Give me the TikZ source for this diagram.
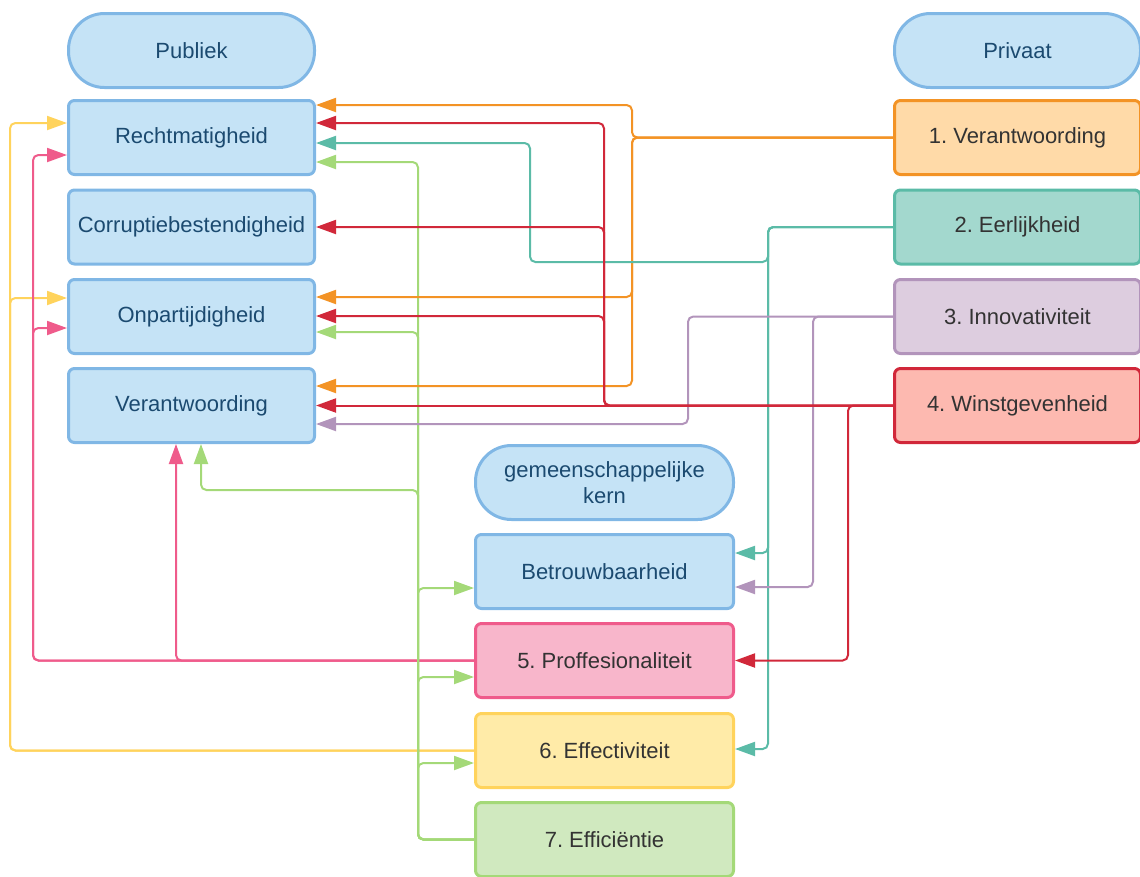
\documentclass[tikz,border=0pt]{standalone}
\usepackage{fontspec}
\setmainfont{Liberation Sans}
\usetikzlibrary{arrows.meta}
\definecolor{bfill}{HTML}{C5E3F6}
\definecolor{bline}{HTML}{80B7E5}
\definecolor{btext}{HTML}{1B4A70}
\definecolor{gtext}{HTML}{333333}
\definecolor{orl}{HTML}{F39325}
\definecolor{orf}{HTML}{FFDAA8}
\definecolor{tel}{HTML}{5BBBA7}
\definecolor{tef}{HTML}{A3D8CE}
\definecolor{pul}{HTML}{B294BB}
\definecolor{puf}{HTML}{DDCDDF}
\definecolor{rel}{HTML}{D1283A}
\definecolor{ref}{HTML}{FDB9B0}
\definecolor{pil}{HTML}{EF5B8B}
\definecolor{pif}{HTML}{F8B6CB}
\definecolor{yel}{HTML}{FFD35C}
\definecolor{yef}{HTML}{FFEBA8}
\definecolor{grl}{HTML}{A4D978}
\definecolor{grf}{HTML}{D0E9BF}
\tikzset{
  box/.style={draw, rounded corners=4.5pt, line width=2.25pt, minimum width=184.5pt,
    minimum height=55.5pt, inner sep=0pt, align=center,
    font=\fontsize{16.5}{19.5}\selectfont},
  bbox/.style={box, fill=bfill, draw=bline, text=btext},
  stad/.style={bbox, rounded corners=27pt},
  midw/.style={minimum width=193.5pt},
  cbox/.style 2 args={box, fill=#2, draw=#1, text=gtext},
  conn/.style={line width=1.5pt, rounded corners=4pt, draw=#1},
  arr/.style={conn=#1, -{Triangle[length=15pt,width=10.5pt]}}
}
\frenchspacing
\begin{document}
\begin{tikzpicture}[x=0.75pt,y=-0.75pt]
\useasboundingbox (0,0) rectangle (1140,876);
\clip (0,0) rectangle (1140,876);
% left column
\node[stad] (Pub) at (191.5,50.5) {Publiek};
\node[bbox] (Rm) at (191.5,137.5) {Rechtmatigheid};
\node[bbox] (Cb) at (191.5,227) {Corruptiebestendigheid};
\node[bbox] (Op) at (191.5,316.5) {Onpartijdigheid};
\node[bbox] (Ve) at (191.5,405.5) {Verantwoording};
% right column
\node[stad] (Pri) at (1017.5,50.5) {Privaat};
\node[cbox={orl}{orf}] (P1) at (1017.5,137.5) {1. Verantwoording};
\node[cbox={tel}{tef}] (P2) at (1017.5,227) {2. Eerlijkheid};
\node[cbox={pul}{puf}] (P3) at (1017.5,316.5) {3. Innovativiteit};
\node[cbox={rel}{ref}] (P4) at (1017.5,405.5) {4. Winstgevenheid};
% middle column
\node[stad,midw] (Kern) at (604.5,482.5) {gemeenschappelijke\\kern};
\node[bbox,midw] (Bt) at (604.5,571.5) {Betrouwbaarheid};
\node[cbox={pil}{pif},midw] (P5) at (604.5,660.5) {5. Proffesionaliteit};
\node[cbox={yel}{yef},midw] (E6) at (604.5,750.5) {6. Effectiviteit};
\node[cbox={grl}{grf},midw] (E7) at (604.5,839.5) {7. Efficiëntie};

% yellow: Effectiviteit
\draw[arr=yel] (E6.west) -- (10,750.5) |- (Rm.west |- 0,123);
\draw[arr=yel] (E6.west) -- (10,750.5) |- (Op.west |- 0,298);
% pink: Proffesionaliteit
\draw[arr=pil] (P5.west) -- (33,660.5) |- (Rm.west |- 0,155);
\draw[arr=pil] (P5.west) -- (33,660.5) |- (Op.west |- 0,328);
\draw[arr=pil] (P5.west) -| (176,0 |- Ve.south);
% green: Efficientie
\draw[arr=grl] (E7.west) -- (418,839.5) |- (Rm.east |- 0,162);
\draw[arr=grl] (E7.west) -- (418,839.5) |- (Op.east |- 0,332);
\draw[arr=grl] (E7.west) -- (418,839.5) -- (418,490) -| (201,0 |- Ve.south);
\draw[arr=grl] (E7.west) -- (418,839.5) |- (Bt.west |- 0,588);
\draw[arr=grl] (E7.west) -- (418,839.5) |- (P5.west |- 0,677);
\draw[arr=grl] (E7.west) -- (418,839.5) |- (E6.west |- 0,763);
% orange: 1. Verantwoording
\draw[arr=orl] (P1.west) -- (632,137.5) |- (Rm.east |- 0,105);
\draw[arr=orl] (P1.west) -- (632,137.5) |- (Op.east |- 0,297);
\draw[arr=orl] (P1.west) -- (632,137.5) |- (Ve.east |- 0,386);
% teal: 2. Eerlijkheid
\draw[arr=tel] (P2.west) -- (768,227) -- (768,262) -- (530,262) |- (Rm.east |- 0,143);
\draw[arr=tel] (P2.west) -- (768,227) |- (Bt.east |- 0,553);
\draw[arr=tel] (P2.west) -- (768,227) |- (E6.east |- 0,749);
% purple: 3. Innovativiteit
\draw[arr=pul] (P3.west) -- (688,316.5) |- (Ve.east |- 0,424);
\draw[arr=pul] (P3.west) -- (813,316.5) |- (Bt.east |- 0,587);
% red: 4. Winstgevenheid
\draw[arr=rel] (P4.west) -- (604,405.5) |- (Rm.east |- 0,123);
\draw[arr=rel] (P4.west) -- (604,405.5) |- (Cb.east);
\draw[arr=rel] (P4.west) -- (604,405.5) |- (Op.east |- 0,316);
\draw[arr=rel] (P4.west) -- (Ve.east);
\draw[arr=rel] (P4.west) -- (848,405.5) |- (P5.east);
\end{tikzpicture}
\end{document}
